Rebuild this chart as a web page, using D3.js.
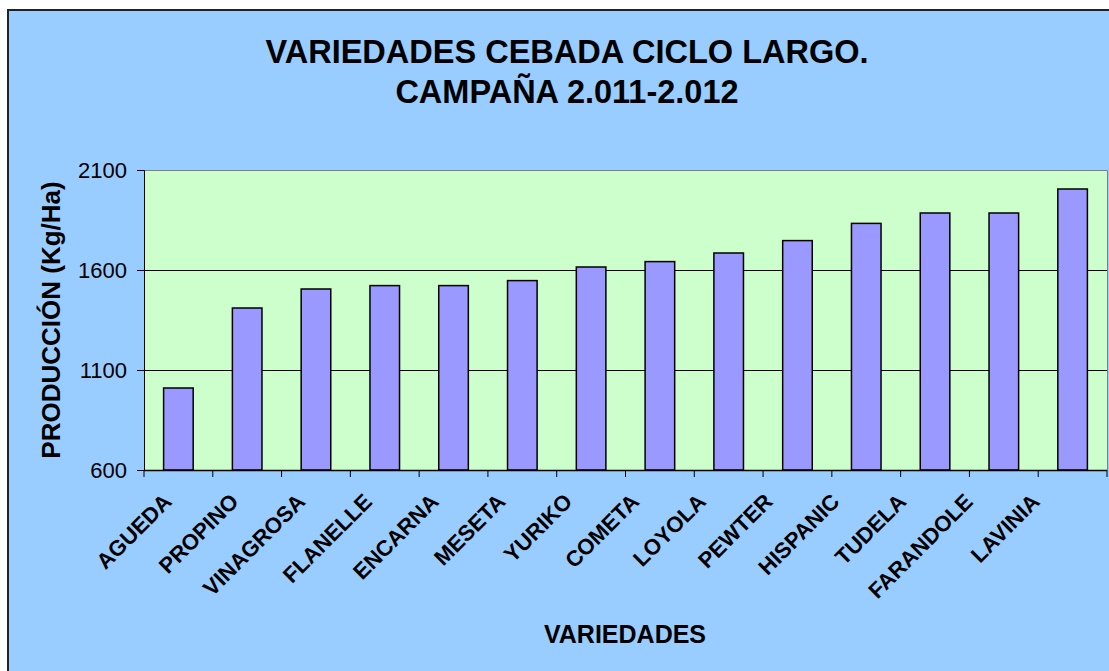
<!DOCTYPE html>
<html>
<head>
<meta charset="utf-8">
<script src="https://cdn.jsdelivr.net/npm/d3@7"></script>
<style>
  html, body { margin: 0; padding: 0; background: #ffffff; }
  svg { display: block; }
  text { font-family: Arial, "Liberation Sans", sans-serif; }
</style>
</head>
<body>
<svg id="chart" width="1109" height="671"></svg>
<script>
const categories = ["AGUEDA","PROPINO","VINAGROSA","FLANELLE","ENCARNA","MESETA","YURIKO","COMETA","LOYOLA","PEWTER","HISPANIC","TUDELA","FARANDOLE","LAVINIA"];
const production = [1010, 1410, 1505, 1522, 1522, 1547, 1615, 1642, 1685, 1747, 1833, 1885, 1885, 2005];
const yTicks = [600, 1100, 1600, 2100];
const titleLines = ["VARIEDADES CEBADA CICLO LARGO.", "CAMPAÑA 2.011-2.012"];
const yTitle = "PRODUCCIÓN (Kg/Ha)";
const xTitle = "VARIEDADES";

const svg = d3.select("#chart");
const W = 1109, H = 671;
const plot = { left: 144, right: 1107, top: 170, bottom: 470 };

// outer chart area
svg.append("rect").attr("x", 8).attr("y", 10).attr("width", W + 10).attr("height", H + 10)
  .attr("fill", "#99CCFF").attr("stroke", "#222").attr("stroke-width", 2);

const x = d3.scaleBand().domain(categories).range([plot.left, plot.right])
  .paddingInner(0.57).paddingOuter(0.285);
const y = d3.scaleLinear().domain([600, 2100]).range([plot.bottom, plot.top]);

// plot background
svg.append("rect").attr("x", plot.left).attr("y", plot.top)
  .attr("width", plot.right - plot.left).attr("height", plot.bottom - plot.top)
  .attr("fill", "#CCFFCC");

// gridlines
svg.append("g").selectAll("line").data(yTicks.filter(t => t > 600 && t < 2100)).join("line")
  .attr("x1", plot.left).attr("x2", plot.right)
  .attr("y1", d => Math.round(y(d)) + 0.5).attr("y2", d => Math.round(y(d)) + 0.5)
  .attr("stroke", "#000").attr("stroke-width", 1);

// top & right border (gray)
svg.append("path")
  .attr("d", `M${plot.left},${plot.top + 0.5}H${plot.right + 0.5}V${plot.bottom}`)
  .attr("fill", "none").attr("stroke", "#808080").attr("stroke-width", 1);

// bars
svg.append("g").selectAll("rect").data(categories).join("rect")
  .attr("x", d => x(d)).attr("width", x.bandwidth())
  .attr("y", (d, i) => y(production[i])).attr("height", (d, i) => plot.bottom - y(production[i]))
  .attr("fill", "#9999FF").attr("stroke", "#000").attr("stroke-width", 1.5);

// y axis
const yAxis = d3.axisLeft(y).tickValues(yTicks).tickSize(7).tickPadding(10).tickFormat(d3.format("d"));
const gy = svg.append("g").attr("transform", `translate(${plot.left},0)`).call(yAxis);
gy.select(".domain").attr("stroke", "#000");
gy.selectAll(".tick line").attr("stroke", "#000");
gy.selectAll(".tick text").attr("font-size", 22).attr("fill", "#000")
  .attr("font-family", "Arial, 'Liberation Sans', sans-serif");

// x axis: boundary ticks
const step = x.step();
const boundaries = d3.range(categories.length + 1).map(i => plot.left + i * step);
svg.append("line").attr("x1", plot.left).attr("x2", plot.right).attr("y1", plot.bottom + 0.5).attr("y2", plot.bottom + 0.5)
  .attr("stroke", "#000").attr("stroke-width", 1.5);
svg.append("g").selectAll("line").data(boundaries).join("line")
  .attr("x1", d => d).attr("x2", d => d).attr("y1", plot.bottom).attr("y2", plot.bottom + 7)
  .attr("stroke", "#000");

// x labels rotated
const labelPos = d3.scalePoint().domain(categories).range([173, 1041]);
svg.append("g").selectAll("text").data(categories).join("text")
  .attr("transform", d => `translate(${labelPos(d)},503) rotate(-45)`)
  .attr("text-anchor", "end")
  .attr("font-size", 22).attr("font-weight", "bold").attr("fill", "#000")
  .text(d => d);

// title
svg.append("text").attr("x", 567).attr("y", 63).attr("text-anchor", "middle")
  .attr("font-size", 32.5).attr("font-weight", "bold").text(titleLines[0]);
svg.append("text").attr("x", 567).attr("y", 103).attr("text-anchor", "middle")
  .attr("font-size", 32.5).attr("font-weight", "bold").text(titleLines[1]);

// axis titles
svg.append("text").attr("transform", "translate(60,320) rotate(-90)").attr("text-anchor", "middle")
  .attr("font-size", 26).attr("font-weight", "bold").text(yTitle);
svg.append("text").attr("x", 625).attr("y", 643).attr("text-anchor", "middle")
  .attr("font-size", 25).attr("font-weight", "bold").text(xTitle);
</script>
</body>
</html>
